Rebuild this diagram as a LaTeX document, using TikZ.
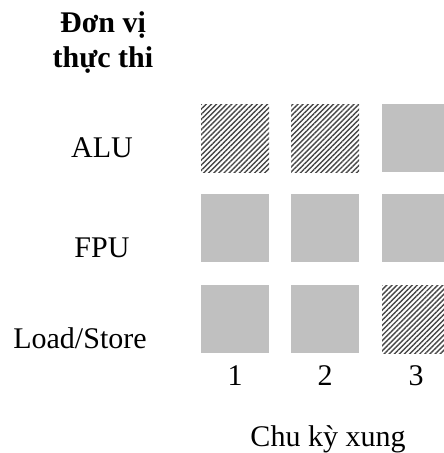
\documentclass[tikz,border=0pt]{standalone}
\usepackage{fontspec}
\setmainfont{Liberation Serif}
\usetikzlibrary{patterns.meta}
\definecolor{cellgray}{HTML}{C0C0C0}
\begin{document}
\begin{tikzpicture}[x=1pt,y=-1pt,
  lbl/.style={font=\fontsize{30}{35}\selectfont, inner sep=0pt, anchor=base},
  ttl/.style={lbl, font=\fontsize{30}{35}\selectfont\bfseries},
  cell/.style={minimum size=68pt, inner sep=0pt, draw=none},
  busy/.style={cell, fill=cellgray},
  stall/.style={cell, pattern={Lines[angle=45,distance=3.6pt,line width=1.4pt]}, pattern color=black!72},
]
\useasboundingbox (0,0) rectangle (444,453);

% heading of the unit column
\node[ttl] (head1) at (103,32) {Đơn vị};
\node[ttl] (head2) at (103,67) {thực thi};

% execution units
\node[lbl] (alu) at (102,157) {ALU};
\node[lbl] (fpu) at (102,257) {FPU};
\node[lbl] (ls)  at (80,348)  {Load/Store};

% occupancy per clock cycle
\node[stall] (a1) at (235,138) {};
\node[stall] (a2) at (325,138) {};
\node[busy]  (a3) at (416,138) {};

\node[busy] (f1) at (235,228) {};
\node[busy] (f2) at (325,228) {};
\node[busy] (f3) at (416,228) {};

\node[busy]  (l1) at (235,319) {};
\node[busy]  (l2) at (325,319) {};
\node[stall] (l3) at (416,319) {};

% cycle numbers
\node[lbl] (c1) at (235,385) {1};
\node[lbl] (c2) at (325,385) {2};
\node[lbl] (c3) at (416,385) {3};

\node[lbl] (axis) at (328,446) {Chu kỳ xung};
\end{tikzpicture}
\end{document}
